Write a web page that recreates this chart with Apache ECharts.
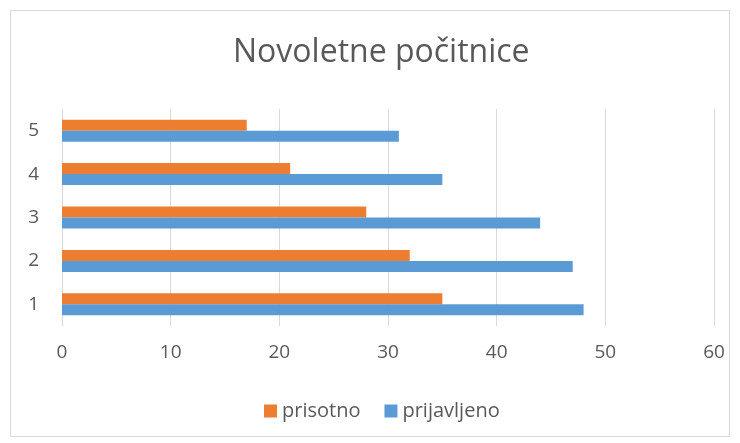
<!DOCTYPE html>
<html><head><meta charset="utf-8">
<script src="https://cdn.jsdelivr.net/npm/echarts@6/dist/echarts.min.js"></script>
<style>html,body{margin:0;padding:0;background:#fff}#c{width:740px;height:443px}</style>
</head><body><div id="c"></div>
<script>
const categories = ['1', '2', '3', '4', '5'];
const prisotno = [35, 32, 28, 21, 17];
const prijavljeno = [48, 47, 44, 35, 31];
const xTicks = { min: 0, max: 60, interval: 10 };

const chart = echarts.init(document.getElementById('c'));
const font = 'Open Sans';
chart.setOption({
  animation: false,
  backgroundColor: '#fff',
  graphic: [{ type: 'rect', shape: { x: 10.5, y: 10.5, width: 719, height: 426 }, style: { fill: 'none', stroke: '#d9d9d9', lineWidth: 1 }, silent: true }],
  title: { text: 'Novoletne počitnice', left: 233, top: 37, padding: 0, textStyle: { fontFamily: font, fontSize: 32, fontWeight: 'normal', color: '#595959' } },
  legend: { bottom: 17, left: 259, itemWidth: 13, itemHeight: 13, itemGap: 24, icon: 'rect', data: ['prisotno', 'prijavljeno'], textStyle: { fontFamily: font, fontSize: 20, color: '#595959' } },
  grid: { left: 62, right: 26, top: 109, bottom: 117, containLabel: false },
  xAxis: { type: 'value', min: xTicks.min, max: xTicks.max, interval: xTicks.interval, axisLine: { show: false }, axisTick: { show: false },
    splitLine: { lineStyle: { color: '#d9d9d9', width: 1 } },
    axisLabel: { fontFamily: font, fontSize: 19, color: '#595959', margin: 17 } },
  yAxis: { type: 'category', data: categories, axisLine: { show: false }, axisTick: { show: false },
    axisLabel: { fontFamily: font, fontSize: 19, color: '#595959', margin: 23 } },
  series: [
    { name: 'prisotno', type: 'bar', data: prisotno, barWidth: 11, barGap: '0%', itemStyle: { color: '#ED7D31' } },
    { name: 'prijavljeno', type: 'bar', data: prijavljeno, barWidth: 11, barGap: '0%', itemStyle: { color: '#5B9BD5' } }
  ]
});
</script></body></html>
